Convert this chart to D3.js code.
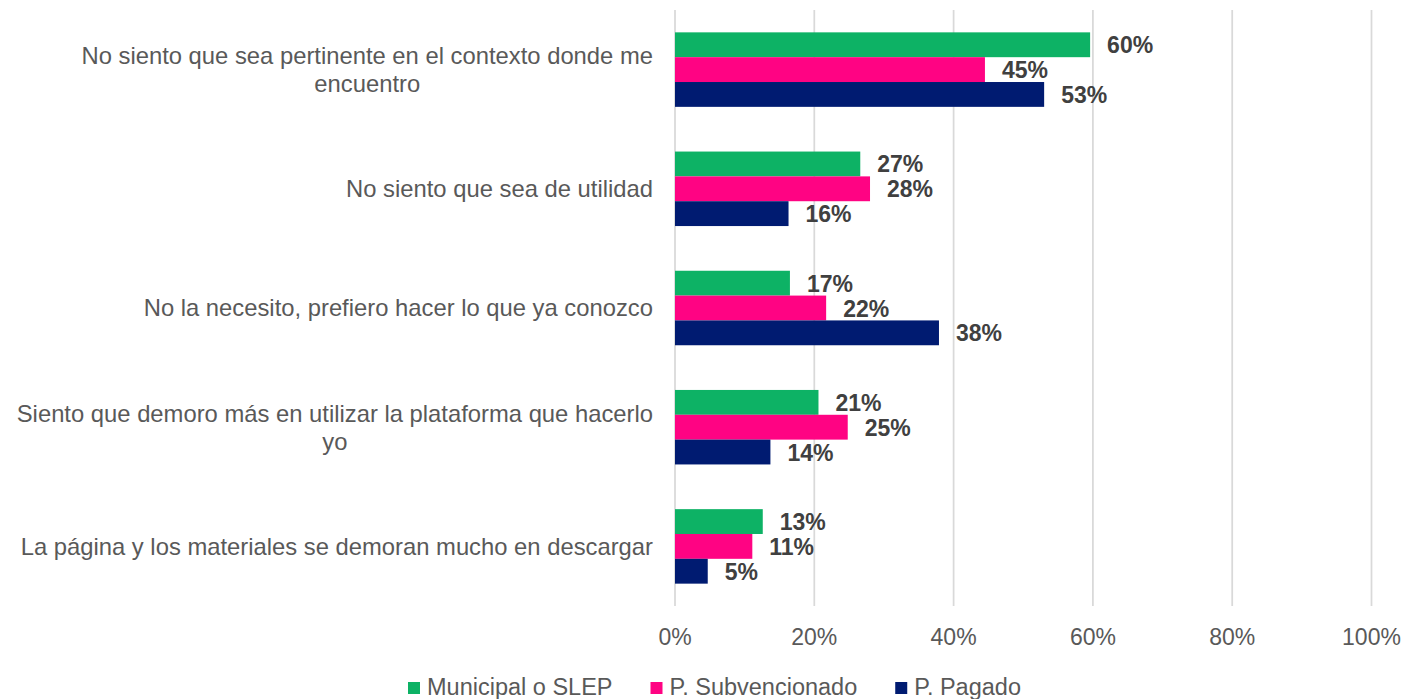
<!DOCTYPE html>
<html>
<head>
<meta charset="utf-8">
<script src="https://cdn.jsdelivr.net/npm/d3@7"></script>
<style>
  html, body { margin: 0; padding: 0; background: #fff; }
  svg { display: block; font-family: "Liberation Sans", Arial, sans-serif; }
</style>
</head>
<body>
<svg id="chart" width="1404" height="699"></svg>
<script>
// ---- data ----
const categories = [
  ["No siento que sea pertinente en el contexto donde me", "encuentro"],
  ["No siento que sea de utilidad"],
  ["No la necesito, prefiero hacer lo que ya conozco"],
  ["Siento que demoro más en utilizar la plataforma que hacerlo", "yo"],
  ["La página y los materiales se demoran mucho en descargar"]
];
const seriesNames = ["Municipal o SLEP", "P. Subvencionado", "P. Pagado"];
const seriesColors = ["#0DB265", "#FF0383", "#001B71"];
const municipal    = [0.596, 0.266, 0.165, 0.206, 0.126];
const subvencion   = [0.445, 0.280, 0.217, 0.248, 0.111];
const pagado       = [0.530, 0.163, 0.379, 0.137, 0.047];
const labelsMun    = ["60%", "27%", "17%", "21%", "13%"];
const labelsSub    = ["45%", "28%", "22%", "25%", "11%"];
const labelsPag    = ["53%", "16%", "38%", "14%", "5%"];
const xTicks = [0, 0.2, 0.4, 0.6, 0.8, 1.0];

const series = [municipal, subvencion, pagado];
const seriesLabels = [labelsMun, labelsSub, labelsPag];

// ---- scales ----
const svg = d3.select("#chart");
const x = d3.scaleLinear().domain([0, 1]).range([675, 1371.5]);
const y0 = d3.scaleBand()
  .domain(d3.range(categories.length))
  .range([10, 606])
  .paddingInner(0.375)
  .paddingOuter(0.1875);
const y1 = d3.scaleBand()
  .domain(d3.range(series.length))
  .range([0, y0.bandwidth()]);

// ---- gridlines ----
svg.append("g")
  .selectAll("line")
  .data(xTicks)
  .join("line")
    .attr("x1", d => x(d))
    .attr("x2", d => x(d))
    .attr("y1", 10)
    .attr("y2", 606)
    .attr("stroke", "#d9d9d9")
    .attr("stroke-width", 1.75);

// ---- x tick labels ----
svg.append("g")
  .selectAll("text")
  .data(xTicks)
  .join("text")
    .attr("x", d => x(d))
    .attr("y", 645)
    .attr("text-anchor", "middle")
    .attr("font-size", 23)
    .attr("fill", "#595959")
    .text(d3.format(".0%"));

// ---- bars + labels ----
const rows = [];
categories.forEach((c, i) => {
  series.forEach((s, j) => {
    rows.push({ cat: i, ser: j, value: s[i], label: seriesLabels[j][i] });
  });
});

const barG = svg.append("g");
barG.selectAll("rect")
  .data(rows)
  .join("rect")
    .attr("x", x(0))
    .attr("y", d => y0(d.cat) + y1(d.ser))
    .attr("width", d => x(d.value) - x(0))
    .attr("height", y1.bandwidth())
    .attr("fill", d => seriesColors[d.ser]);

barG.selectAll("text")
  .data(rows)
  .join("text")
    .attr("x", d => x(d.value) + 17)
    .attr("y", d => y0(d.cat) + y1(d.ser) + y1.bandwidth() / 2 + 8.5)
    .attr("font-size", 23)
    .attr("font-weight", "bold")
    .attr("fill", "#404040")
    .text(d => d.label);

// ---- category labels (lines centred as a block, block right edge at 653) ----
const LINE_H = 28;
const LABEL_RIGHT = 653;
svg.append("g")
  .selectAll("text")
  .data(categories)
  .join("text")
    .attr("text-anchor", "middle")
    .attr("font-size", 23.8)
    .attr("fill", "#595959")
    .each(function(lines, i) {
      const el = d3.select(this);
      const cy = y0(i) + y0.bandwidth() / 2;
      const n = lines.length;
      const spans = el.selectAll("tspan")
        .data(lines)
        .join("tspan")
          .attr("y", (l, k) => cy + 8.3 + (k - (n - 1) / 2) * LINE_H)
          .text(l => l);
      const maxW = d3.max(spans.nodes(), s => s.getComputedTextLength());
      spans.attr("x", LABEL_RIGHT - maxW / 2);
    });

// ---- legend ----
const legend = svg.append("g").attr("transform", "translate(408,0)");
let lx = 0;
seriesNames.forEach((name, j) => {
  legend.append("rect")
    .attr("x", lx)
    .attr("y", 682)
    .attr("width", 12)
    .attr("height", 12)
    .attr("fill", seriesColors[j]);
  const t = legend.append("text")
    .attr("x", lx + 19)
    .attr("y", 695)
    .attr("font-size", 23.5)
    .attr("fill", "#595959")
    .text(name);
  lx += 19 + t.node().getComputedTextLength() + 38;
});
</script>
</body>
</html>
